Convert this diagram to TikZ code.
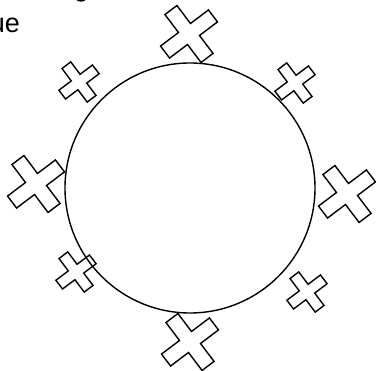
\documentclass[tikz,border=0pt]{standalone}
\usepackage{fontspec}
\setmainfont{Liberation Sans}
\tikzset{
  ringline/.style={line width=1.4pt},
  crossline/.style={line width=1.4pt, line join=miter},
  txt/.style={font=\fontsize{27}{32}\selectfont, inner sep=0pt, outer sep=0pt}
}
\newcommand\plusmark[4]{% x, y, half arm width, half arm length
  \draw[crossline, shift={(#1,#2)}, rotate=37]
    (#3,#4) -- (#3,#3) -- (#4,#3) -- (#4,-#3) -- (#3,-#3) -- (#3,-#4)
    -- (-#3,-#4) -- (-#3,-#3) -- (-#4,-#3) -- (-#4,#3) -- (-#3,#3) -- (-#3,#4) -- cycle;}
\begin{document}
\begin{tikzpicture}[x=1pt,y=-1pt]
\useasboundingbox (0,0) rectangle (376,371);
\node[txt, anchor=base east] (ue) at (20,33) {ue};
\node[txt, anchor=base west] (g) at (74,-3) {g};
\draw[ringline] (190,188) circle[radius=125];
% big crosses
\plusmark{189}{34}{7.5}{30}
\plusmark{36}{184}{7.5}{30}
\plusmark{347}{194}{7.5}{30}
\plusmark{190}{342}{7.5}{30}
% small crosses
\plusmark{79}{82}{5.5}{21}
\plusmark{295}{83}{5.5}{21}
\plusmark{307}{292}{5.5}{21}
\plusmark{76}{272}{5.5}{21}
\end{tikzpicture}
\end{document}
